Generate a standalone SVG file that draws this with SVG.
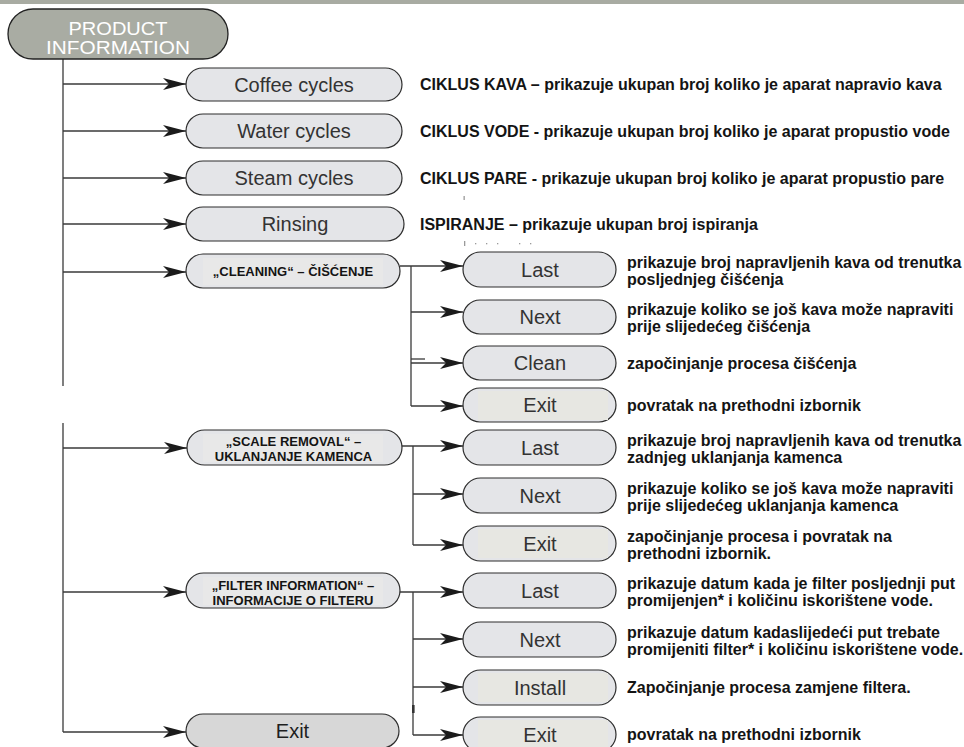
<svg xmlns="http://www.w3.org/2000/svg" width="964" height="747" viewBox="0 0 964 747">
<defs>
<marker id="arr" markerUnits="userSpaceOnUse" markerWidth="23" markerHeight="12" viewBox="0 0 23 12" refX="23" refY="6" orient="auto"><path d="M0,0 L23,6 L0,12 L6,6 Z" fill="#1b1b1b"/></marker>
</defs>
<style>
.pill{fill:#e4e5e8;stroke:#2d2d2d;stroke-width:1.2}
.dark{fill:#d7d7d7}
.inner{fill:#e7e7e2}
.innerb{fill:#e8e8e8}
.lbl{font-family:"Liberation Sans",Arial,sans-serif;font-size:20px;fill:#333;text-anchor:middle}
.bl{font-family:"Liberation Sans",Arial,sans-serif;font-size:13px;font-weight:bold;fill:#141414;text-anchor:middle}
.desc{font-family:"Liberation Sans",Arial,sans-serif;font-size:16px;font-weight:bold;fill:#141414}
.pi{font-family:"Liberation Sans",Arial,sans-serif;font-size:17.5px;fill:#fff;text-anchor:middle}
.ln{fill:none;stroke:#3a3a3a;stroke-width:1.3}
.ar{marker-end:url(#arr)}
.speck{fill:#9a9a9a}
</style>
<rect x="0" y="0" width="964" height="4" fill="#a8aba2"/>

<g id="connectors">
<path class="ln" d="M63,59 V386"/>
<path class="ln" d="M63,423 V732"/>
<path class="ln ar" d="M63,84 H186"/>
<path class="ln ar" d="M63,131 H186"/>
<path class="ln ar" d="M63,178 H186"/>
<path class="ln ar" d="M63,224 H186"/>
<path class="ln ar" d="M63,272 H186"/>
<path class="ln ar" d="M63,448 H187"/>
<path class="ln ar" d="M63,592 H186"/>
<path class="ln ar" d="M63,732 H186"/>
<path class="ln ar" d="M400,266 H463"/>
<path class="ln" d="M411,266 V406"/>
<path class="ln ar" d="M411,312 H463"/>
<path class="ln" d="M411,359 H425"/>
<path class="ln ar" d="M411,363 H463"/>
<path class="ln ar" d="M411,406 H463"/>
<path class="ln ar" d="M402,446 H463"/>
<path class="ln" d="M413,446 V545"/>
<path class="ln ar" d="M413,494 H463"/>
<path class="ln ar" d="M413,545 H463"/>
<path class="ln ar" d="M400,592 H463"/>
<path class="ln" d="M413,592 V735"/>
<path class="ln ar" d="M413,639 H463"/>
<path class="ln ar" d="M413,687 H463"/>
<path class="ln ar" d="M413,735 H463"/>
<rect x="412" y="705" width="2.6" height="8" fill="#333"/>
</g>

<g id="node-product-information">
<rect x="8" y="9" width="220" height="50" rx="25" fill="#a9aca3" stroke="#222" stroke-width="1.3"/>
<text class="pi" x="118" y="34.5" textLength="99" lengthAdjust="spacingAndGlyphs">PRODUCT</text>
<text class="pi" x="118" y="54" textLength="144" lengthAdjust="spacingAndGlyphs">INFORMATION</text>
</g>

<g id="node-coffee-cycles">
<rect class="pill" x="186" y="68" width="216" height="33" rx="16.5"/>
<text class="lbl" x="294" y="91.5">Coffee cycles</text>
<text class="desc" x="420" y="90">CIKLUS KAVA – prikazuje ukupan broj koliko je aparat napravio kava</text>
</g>
<g id="node-water-cycles">
<rect class="pill" x="186" y="114" width="216" height="34" rx="17"/>
<text class="lbl" x="294" y="138">Water cycles</text>
<text class="desc" x="420" y="137">CIKLUS VODE - prikazuje ukupan broj koliko je aparat propustio vode</text>
</g>
<g id="node-steam-cycles">
<rect class="pill" x="186" y="161" width="216" height="34" rx="17"/>
<text class="lbl" x="294" y="185">Steam cycles</text>
<text class="desc" x="420" y="183.5">CIKLUS PARE - prikazuje ukupan broj koliko je aparat propustio pare</text>
</g>
<g id="node-rinsing">
<rect class="pill" x="186" y="207" width="218" height="34" rx="17"/>
<text class="lbl" x="295" y="231">Rinsing</text>
<text class="desc" x="420" y="229.5">ISPIRANJE – prikazuje ukupan broj ispiranja</text>
</g>
<g id="specks">
<rect class="speck" x="463.5" y="196" width="1.3" height="4"/>
<rect class="speck" x="464" y="241" width="1.3" height="5"/>
<rect class="speck" x="475" y="243" width="1.3" height="1.3"/>
<rect class="speck" x="486" y="243" width="1.3" height="1.3"/>
<rect class="speck" x="497" y="243" width="1.3" height="1.3"/>
<rect class="speck" x="519" y="243" width="1.3" height="1.3"/>
<rect class="speck" x="530" y="243" width="1.3" height="1.3"/>
</g>

<g id="node-cleaning">
<rect class="pill" x="186" y="254" width="214" height="34" rx="17"/>
<rect class="innerb" x="203" y="258" width="180" height="27"/>
<text class="bl" x="293" y="276">„CLEANING“ – ČIŠĆENJE</text>
</g>
<g id="node-cleaning-last">
<rect class="pill" x="463" y="252" width="153" height="35" rx="17.5"/>
<text class="lbl" x="540" y="276.5">Last</text>
<text class="desc" x="627" y="267.5">prikazuje broj napravljenih kava od trenutka</text>
<text class="desc" x="627" y="284.5">posljednjeg čišćenja</text>
</g>
<g id="node-cleaning-next">
<rect class="pill" x="463" y="300" width="153" height="34" rx="17"/>
<text class="lbl" x="540" y="324">Next</text>
<text class="desc" x="627" y="315">prikazuje koliko se još kava može napraviti</text>
<text class="desc" x="627" y="332">prije slijedećeg čišćenja</text>
</g>
<g id="node-cleaning-clean">
<rect class="pill" x="463" y="346" width="153" height="34" rx="17"/>
<text class="lbl" x="540" y="370">Clean</text>
<text class="desc" x="627" y="368.5">započinjanje procesa čišćenja</text>
</g>
<g id="node-cleaning-exit">
<rect class="pill" x="463" y="388" width="153" height="34" rx="17"/>
<rect class="inner" x="478" y="391" width="130" height="29"/>
<text class="lbl" x="540" y="412">Exit</text>
<text class="desc" x="627" y="410.5">povratak na prethodni izbornik</text>
</g>

<g id="node-scale-removal">
<rect class="pill" x="187" y="430" width="215" height="35" rx="17.5"/>
<rect class="innerb" x="203" y="434" width="180" height="28"/>
<text class="bl" x="293.5" y="446">„SCALE REMOVAL“ –</text>
<text class="bl" x="293.5" y="461">UKLANJANJE KAMENCA</text>
</g>
<g id="node-scale-last">
<rect class="pill" x="463" y="430" width="153" height="35" rx="17.5"/>
<text class="lbl" x="540" y="454.5">Last</text>
<text class="desc" x="627" y="445.5">prikazuje broj napravljenih kava od trenutka</text>
<text class="desc" x="627" y="462.5">zadnjeg uklanjanja kamenca</text>
</g>
<g id="node-scale-next">
<rect class="pill" x="463" y="478" width="153" height="35" rx="17.5"/>
<text class="lbl" x="540" y="502.5">Next</text>
<text class="desc" x="627" y="493.5">prikazuje koliko se još kava može napraviti</text>
<text class="desc" x="627" y="510.5">prije slijedećeg uklanjanja kamenca</text>
</g>
<g id="node-scale-exit">
<rect class="pill" x="463" y="526" width="153" height="35" rx="17.5"/>
<rect class="inner" x="478" y="529" width="130" height="29"/>
<text class="lbl" x="540" y="550.5">Exit</text>
<text class="desc" x="627" y="541.5">započinjanje procesa i povratak na</text>
<text class="desc" x="627" y="558.5">prethodni izbornik.</text>
</g>

<g id="node-filter-information">
<rect class="pill" x="186" y="573" width="214" height="35" rx="17.5"/>
<rect class="innerb" x="203" y="577" width="180" height="28"/>
<text class="bl" x="293" y="590">„FILTER INFORMATION“ –</text>
<text class="bl" x="293" y="605">INFORMACIJE O FILTERU</text>
</g>
<g id="node-filter-last">
<rect class="pill" x="463" y="573" width="153" height="35" rx="17.5"/>
<text class="lbl" x="540" y="597.5">Last</text>
<text class="desc" x="627" y="588.5">prikazuje datum kada je filter posljednji put</text>
<text class="desc" x="627" y="605.5">promijenjen* i količinu iskorištene vode.</text>
</g>
<g id="node-filter-next">
<rect class="pill" x="463" y="622" width="153" height="35" rx="17.5"/>
<text class="lbl" x="540" y="646.5">Next</text>
<text class="desc" x="627" y="637.5">prikazuje datum kadaslijedeći put trebate</text>
<text class="desc" x="627" y="654.5">promijeniti filter* i količinu iskorištene vode.</text>
</g>
<g id="node-filter-install">
<rect class="pill" x="463" y="670" width="153" height="35" rx="17.5"/>
<rect class="inner" x="478" y="673" width="130" height="29"/>
<text class="lbl" x="540" y="694.5">Install</text>
<text class="desc" x="627" y="693">Započinjanje procesa zamjene filtera.</text>
</g>
<g id="node-filter-exit">
<rect class="pill" x="463" y="717" width="153" height="35" rx="17.5"/>
<rect class="inner" x="478" y="720" width="130" height="29"/>
<text class="lbl" x="540" y="741.5">Exit</text>
<text class="desc" x="627" y="740">povratak na prethodni izbornik</text>
</g>

<g id="node-exit">
<rect class="pill dark" x="186" y="714" width="213" height="34" rx="17"/>
<text class="lbl" x="292.5" y="738" style="fill:#1e1e1e">Exit</text>
</g>
</svg>
